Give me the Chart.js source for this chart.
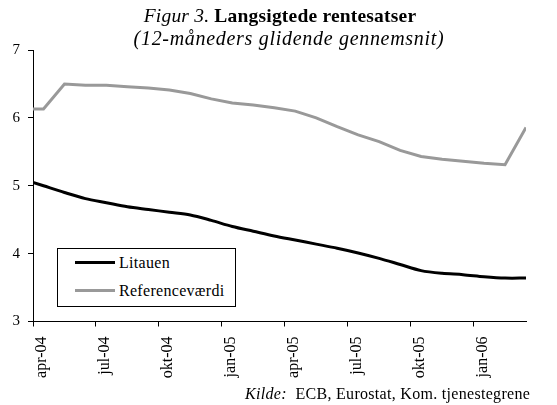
<!DOCTYPE html>
<html>
<head>
<meta charset="utf-8">
<script src="https://cdn.jsdelivr.net/npm/chart.js@4"></script>
<style>
  html, body { margin:0; padding:0; background:#fff; }
  #wrap { position:relative; width:557px; height:405px; overflow:hidden; font-family:"Liberation Serif", "Times New Roman", serif; color:#000; }
  canvas { position:absolute; left:0; top:0; }
  .t { position:absolute; white-space:nowrap; line-height:1; }
  #title { left:0; width:560px; top:6px; text-align:center; font-size:19.5px; letter-spacing:0.2px; }
  #sub { left:0; width:578px; top:28px; text-align:center; font-size:20px; font-style:italic; letter-spacing:0.7px; }
  #foot { left:245px; top:386px; font-size:16px; letter-spacing:0.3px; }
  #legend { position:absolute; left:57px; top:248px; width:177px; height:57px; border:1px solid #000; background:#fff; }
  .li { position:absolute; left:0; height:20px; width:177px; }
  .sw { position:absolute; left:17px; width:40px; height:3px; top:8px; }
  .lt { position:absolute; left:61px; top:1px; font-size:16px; line-height:18px; letter-spacing:0.3px; }
</style>
</head>
<body>
<div id="wrap">
  <canvas id="c" width="557" height="405"></canvas>
  <div id="title" class="t"><i>Figur 3.</i> <b>Langsigtede rentesatser</b></div>
  <div id="sub" class="t">(12-måneders glidende gennemsnit)</div>
  <div id="legend"></div>
  <div id="foot" class="t"><i>Kilde:</i>&nbsp; ECB, Eurostat, Kom. tjenestegrene</div>
</div>
<script>
// Monthly observations (mid-month), 12-month moving averages
const months = ['mar-04','apr-04','maj-04','jun-04','jul-04','aug-04','sep-04','okt-04','nov-04','dec-04',
                'jan-05','feb-05','mar-05','apr-05','maj-05','jun-05','jul-05','aug-05','sep-05','okt-05',
                'nov-05','dec-05','jan-06','feb-06','mar-06'];
const litauen = [5.10, 5.00, 4.90, 4.81, 4.75, 4.69, 4.65, 4.61, 4.57, 4.49,
                 4.40, 4.33, 4.26, 4.20, 4.14, 4.08, 4.01, 3.93, 3.84, 3.75,
                 3.71, 3.69, 3.66, 3.64, 3.64];
const referencevaerdi = [6.13, 6.13, 6.50, 6.48, 6.48, 6.46, 6.44, 6.41, 6.36, 6.28,
                         6.22, 6.19, 6.15, 6.10, 6.00, 5.87, 5.75, 5.65, 5.52, 5.43,
                         5.39, 5.36, 5.33, 5.31, 5.86];
const seriesNames = ['Litauen', 'Referenceværdi'];
const seriesColors = ['#000000', '#999999'];
const xTickLabels = ['apr-04','jul-04','okt-04','jan-05','apr-05','jul-05','okt-05','jan-06'];
const yTickLabels = ['3','4','5','6','7'];

// x position: months since start of apr-04, points at mid-month
const toXY = arr => arr.map((v, i) => ({ x: i - 0.5, y: v }));
const xTickPos = xTickLabels.map((_, k) => k * 3);

// HTML legend
const leg = document.getElementById('legend');
seriesNames.forEach((n, i) => {
  const row = document.createElement('div');
  row.className = 'li';
  row.style.top = (4 + i * 28) + 'px';
  row.innerHTML = '<div class="sw" style="background:' + seriesColors[i] + '"></div><div class="lt">' + n + '</div>';
  leg.appendChild(row);
});

Chart.defaults.font.family = '"Liberation Serif", "Times New Roman", serif';
Chart.defaults.color = '#000';

new Chart(document.getElementById('c'), {
  type: 'line',
  data: {
    datasets: [
      { label: seriesNames[1], data: toXY(referencevaerdi), borderColor: seriesColors[1], borderWidth: 3,
        pointRadius: 0, tension: 0, fill: false },
      { label: seriesNames[0], data: toXY(litauen), borderColor: seriesColors[0], borderWidth: 3,
        pointRadius: 0, tension: 0.3, fill: false }
    ]
  },
  options: {
    responsive: false,
    animation: false,
    events: [],
    layout: { padding: { top: 50, right: 31, left: 0, bottom: 0 } },
    plugins: { legend: { display: false }, tooltip: { enabled: false }, title: { display: false } },
    scales: {
      x: {
        type: 'linear',
        min: 0,
        max: 23.5,
        afterFit: s => { s.height = 83.5; },
        afterBuildTicks: s => { s.ticks = xTickPos.map(v => ({ value: v })); },
        grid: { drawOnChartArea: false, drawTicks: true, tickLength: 5, color: '#000', lineWidth: 1 },
        border: { color: '#000', width: 1 },
        ticks: {
          minRotation: 90, maxRotation: 90, autoSkip: false, padding: 10, labelOffset: 9,
          font: { size: 16 },
          callback: (v) => { const k = xTickPos.indexOf(v); return k >= 0 ? xTickLabels[k] : ''; }
        }
      },
      y: {
        min: 3,
        max: 7,
        afterFit: s => { s.width = 33; },
        afterBuildTicks: s => { s.ticks = yTickLabels.map(t => ({ value: Number(t) })); },
        grid: { drawOnChartArea: false, drawTicks: true, tickLength: 5, color: '#000', lineWidth: 1 },
        border: { color: '#000', width: 1 },
        ticks: { padding: 8, font: { size: 15 }, callback: v => String(v) }
      }
    }
  }
});
</script>
</body>
</html>
